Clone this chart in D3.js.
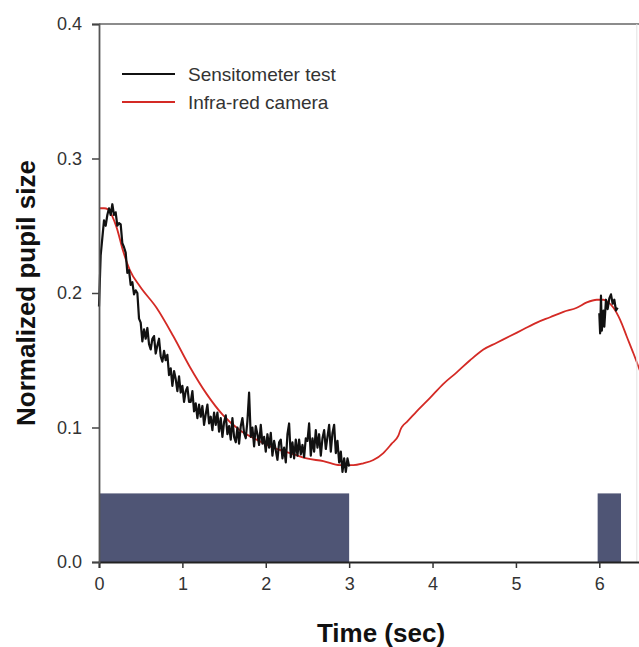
<!DOCTYPE html>
<html>
<head>
<meta charset="utf-8">
<script src="https://cdn.jsdelivr.net/npm/d3@7"></script>
<style>
  body { margin: 0; background: #fff; }
  #chart { width: 639px; height: 647px; }
  text { font-family: "Liberation Sans", Arial, sans-serif; fill: #333; }
  .axis-title { font-weight: bold; fill: #111; font-size: 26px; }
</style>
</head>
<body>
<div id="chart"></div>
<script>
// stimulus bars (sec)
const stimStart = [0, 5.98];
const stimEnd = [3.0, 6.26];
const stimLevel = 0.051;

// sensitometer trace, first part, sampled every 0.02 s from 0
const sensStep = 0.02;
const sensA = [
  0.190, 0.228, 0.241, 0.254, 0.250, 0.258, 0.263, 0.258, 0.266, 0.258,
  0.260, 0.250, 0.252, 0.251, 0.237, 0.234, 0.230, 0.215, 0.217, 0.206,
  0.208, 0.199, 0.202, 0.200, 0.181, 0.178, 0.164, 0.173, 0.166, 0.174,
  0.162, 0.158, 0.166, 0.168, 0.155, 0.161, 0.166, 0.153, 0.149, 0.157,
  0.150, 0.154, 0.139, 0.144, 0.131, 0.142, 0.136, 0.127, 0.138, 0.126,
  0.131, 0.119, 0.127, 0.130, 0.119, 0.119, 0.127, 0.112, 0.118, 0.107,
  0.117, 0.108, 0.116, 0.102, 0.110, 0.117, 0.103, 0.108, 0.098, 0.111,
  0.102, 0.111, 0.097, 0.107, 0.093, 0.104, 0.109, 0.095, 0.101, 0.091,
  0.107, 0.093, 0.089, 0.100, 0.088, 0.101, 0.107, 0.096, 0.092, 0.105,
  0.126, 0.093, 0.100, 0.086, 0.101, 0.095, 0.087, 0.102, 0.088, 0.093,
  0.082, 0.095, 0.085, 0.096, 0.079, 0.090, 0.083, 0.076, 0.089, 0.091,
  0.077, 0.085, 0.074, 0.095, 0.103, 0.078, 0.089, 0.077, 0.091, 0.079,
  0.091, 0.080, 0.087, 0.078, 0.092, 0.090, 0.103, 0.079, 0.092, 0.082,
  0.098, 0.085, 0.095, 0.079, 0.092, 0.098, 0.084, 0.093, 0.102, 0.082,
  0.096, 0.102, 0.081, 0.090, 0.074, 0.082, 0.067, 0.077, 0.067, 0.077,
  0.071
];

// sensitometer trace, second part
const sensBTime = [6.00, 6.01, 6.02, 6.03, 6.05, 6.06, 6.08, 6.10, 6.12, 6.14, 6.16, 6.18, 6.20, 6.22];
const sensBValue = [0.185, 0.170, 0.198, 0.172, 0.187, 0.175, 0.195, 0.188, 0.196, 0.199, 0.192, 0.195, 0.187, 0.189];

// infra-red camera trace
const irTime = [0.00, 0.06, 0.11, 0.16, 0.21, 0.29, 0.37, 0.49, 0.69, 0.89, 1.09, 1.29, 1.49, 1.69, 1.89,
  2.09, 2.29, 2.49, 2.69, 2.89, 3.05, 3.17, 3.29, 3.41, 3.51, 3.59, 3.62, 3.64, 3.69, 3.81, 3.97,
  4.13, 4.29, 4.45, 4.61, 4.77, 4.93, 5.09, 5.25, 5.41, 5.57, 5.73, 5.85, 5.97, 6.05, 6.11, 6.17,
  6.25, 6.33, 6.41, 6.50];
const irValue = [0.263, 0.263, 0.262, 0.257, 0.249, 0.231, 0.217, 0.205, 0.189, 0.168, 0.145, 0.125, 0.109, 0.098, 0.091,
  0.085, 0.081, 0.077, 0.075, 0.072, 0.072, 0.0734, 0.0758, 0.081, 0.088, 0.094, 0.099, 0.101, 0.104, 0.112, 0.122,
  0.1325, 0.141, 0.150, 0.158, 0.163, 0.168, 0.173, 0.178, 0.182, 0.186, 0.189, 0.193, 0.195, 0.195, 0.193, 0.189,
  0.180, 0.1675, 0.155, 0.140];

const xTicks = [0, 1, 2, 3, 4, 5, 6];
const yTicks = [0, 0.1, 0.2, 0.3, 0.4];
const legendLabels = ['Sensitometer test', 'Infra-red camera'];

// chart setup
let margin = { top: 24, left: 99 };
let height = 538;
let width = 542;
let svg = d3.select('#chart').append('svg').attr('width', 639).attr('height', 647);
let group = svg.append('g').attr('transform', `translate(${margin.left}, ${margin.top})`);

let x = d3.scaleLinear().domain([0, 6.5]).range([0, width]);
let y = d3.scaleLinear().domain([0, 0.4]).range([height, 0]);

// stimulus bars
group.selectAll('rect.stim')
  .data(stimStart.map((s, i) => ({ s: s, e: stimEnd[i] })))
  .enter().append('rect')
  .attr('class', 'stim')
  .attr('x', d => x(d.s))
  .attr('y', y(stimLevel))
  .attr('width', d => x(d.e) - x(d.s))
  .attr('height', y(0) - y(stimLevel))
  .attr('fill', '#4f5575');

const sensA_pts = sensA.map((v, i) => [i * sensStep, v]);
const sensB_pts = sensBTime.map((t, i) => [t, sensBValue[i]]);
const ir_pts = irTime.map((t, i) => [t, irValue[i]]);

let line = d3.line().x(d => x(d[0])).y(d => y(d[1]));

group.append('path').datum(ir_pts)
  .attr('d', line.curve(d3.curveMonotoneX))
  .attr('fill', 'none').attr('stroke', '#d42a25').attr('stroke-width', 1.8);

line = d3.line().x(d => x(d[0])).y(d => y(d[1]));
[sensA_pts, sensB_pts].forEach(pts => {
  group.append('path').datum(pts)
    .attr('d', line)
    .attr('fill', 'none').attr('stroke', '#111').attr('stroke-width', 2.2)
    .attr('stroke-linejoin', 'round');
});

// frame
group.append('line').attr('x1', 0).attr('x2', width).attr('y1', 0).attr('y2', 0)
  .attr('stroke', '#666').attr('stroke-width', 1.5);
group.append('line').attr('x1', x(6.45)).attr('x2', x(6.45)).attr('y1', 0).attr('y2', height)
  .attr('stroke', '#e2e2e2').attr('stroke-width', 1);

// axes
const xAxis = group.append('g')
  .attr('transform', `translate(0, ${height})`)
  .call(d3.axisBottom(x).tickValues(xTicks).tickFormat(d3.format('d')).tickSize(6).tickPadding(9));
xAxis.select('.domain').attr('stroke', '#222').attr('stroke-width', 1.8);
xAxis.selectAll('.tick line').attr('stroke', '#333').attr('stroke-width', 1.5);
xAxis.selectAll('text').style('font-size', '18px').attr('fill', '#333')
  .style('font-family', '"Liberation Sans", Arial, sans-serif');

const yAxis = group.append('g')
  .call(d3.axisLeft(y).tickValues(yTicks).tickFormat(d3.format('.1f')).tickSize(7).tickPadding(10));
yAxis.select('.domain').attr('stroke', '#555').attr('stroke-width', 1.8);
yAxis.selectAll('.tick line').attr('stroke', '#444').attr('stroke-width', 1.5);
yAxis.selectAll('text').style('font-size', '18px').attr('fill', '#333')
  .style('font-family', '"Liberation Sans", Arial, sans-serif');

// axis titles
svg.append('text')
  .attr('class', 'axis-title')
  .attr('text-anchor', 'middle')
  .attr('transform', 'translate(35, 293) rotate(-90)')
  .text('Normalized pupil size');

svg.append('text')
  .attr('class', 'axis-title')
  .attr('text-anchor', 'middle')
  .attr('x', 381)
  .attr('y', 642)
  .text('Time (sec)');

// legend
const legendColors = ['#111', '#d42a25'];
const legend = svg.append('g').attr('transform', 'translate(122, 74)');
legendLabels.forEach((label, i) => {
  legend.append('line')
    .attr('x1', 0).attr('x2', 53).attr('y1', i * 28).attr('y2', i * 28)
    .attr('stroke', legendColors[i]).attr('stroke-width', 2);
  legend.append('text')
    .attr('x', 66).attr('y', i * 28 + 7)
    .style('font-size', '19px')
    .attr('fill', '#222')
    .text(label);
});
</script>
</body>
</html>
